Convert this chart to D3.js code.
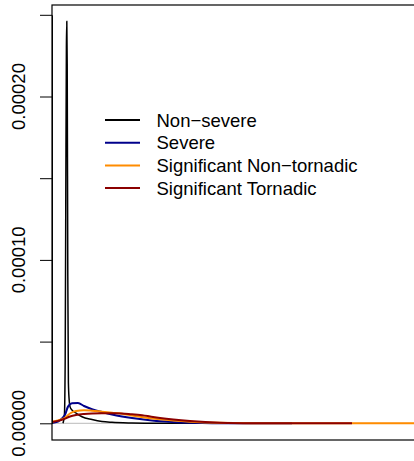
<!DOCTYPE html>
<html>
<head>
<meta charset="utf-8">
<script src="https://cdn.jsdelivr.net/npm/d3@7"></script>
<style>
  html, body { margin: 0; padding: 0; background: #fff; }
  svg { display: block; }
</style>
</head>
<body>
<svg id="chart" width="414" height="461"></svg>
<script>
// legend labels and colours
const seriesNames = ["Non\u2212severe", "Severe", "Significant Non\u2212tornadic", "Significant Tornadic"];
const seriesColors = ["#000000", "#00008B", "#FF8C00", "#8B0000"];

// density curves (x in data units, y = density)
const nonSevereX = [550, 620, 660, 690, 720, 740, 760, 790, 820, 860, 900, 1000, 1200, 1500, 2000, 2500, 3000, 4000, 5000, 6000, 8000];
const nonSevereY = [0, 0.000005, 0.00004, 0.00014, 0.00023, 0.000246, 0.00022, 0.00009, 0.000025, 0.000014, 0.0000102, 0.0000081, 0.0000063, 0.000004, 0.0000023, 0.0000011, 0.0000006, 0.0000002, 0.00000005, 0, 0];

const severeX = [0, 300, 500, 650, 800, 1000, 1300, 1600, 2000, 2500, 3000, 3500, 4000, 5000, 6000, 7000, 8000, 12000];
const severeY = [0.0000002, 0.000001, 0.000003, 0.0000052, 0.0000102, 0.0000122, 0.0000124, 0.0000106, 0.0000086, 0.0000069, 0.0000054, 0.0000042, 0.0000032, 0.0000017, 0.0000008, 0.0000003, 0.0000001, 0];

const sigNonTorX = [0, 300, 600, 900, 1200, 1600, 2000, 2500, 3000, 3500, 4000, 4400, 5400, 6900, 8400, 10000, 14000, 20000];
const sigNonTorY = [0.000001, 0.0000018, 0.000003, 0.000006, 0.0000075, 0.000008, 0.0000077, 0.0000071, 0.0000065, 0.0000059, 0.0000048, 0.000004, 0.0000024, 0.000001, 0.0000003, 0.0000001, 0, 0];

const sigTorX = [0, 300, 600, 900, 1200, 1600, 2000, 2500, 3000, 3500, 4000, 4400, 5400, 6900, 8400, 10000, 15000];
const sigTorY = [0.0000008, 0.0000015, 0.0000026, 0.0000042, 0.0000051, 0.0000057, 0.000006, 0.0000061, 0.0000061, 0.000006, 0.0000055, 0.0000051, 0.0000032, 0.0000014, 0.0000004, 0.0000001, 0];

const yTicks = [0, 0.00005, 0.0001, 0.00015, 0.0002, 0.00025];
const yTickLabels = ["0.00000", "", "0.00010", "", "0.00020", ""];

const svg = d3.select("#chart");
const font = "'Liberation Sans', Arial, Helvetica, sans-serif";

const plot = { left: 52, top: 5, bottom: 440, right: 500 };

const x = d3.scaleLinear().domain([0, 20000]).range([52, 452]);
const y = d3.scaleLinear().domain([0, 0.00025]).range([423.3, 14.8]);

svg.append("defs").append("clipPath").attr("id", "clip")
  .append("rect")
  .attr("x", plot.left).attr("y", plot.top)
  .attr("width", plot.right - plot.left).attr("height", plot.bottom - plot.top);

const area = svg.append("g").attr("clip-path", "url(#clip)");

// zero reference line
area.append("line")
  .attr("x1", plot.left).attr("x2", plot.right)
  .attr("y1", y(0)).attr("y2", y(0))
  .attr("stroke", "#c8c8c8").attr("stroke-width", 1.2);

const series = [
  { xs: nonSevereX, ys: nonSevereY },
  { xs: severeX, ys: severeY },
  { xs: sigNonTorX, ys: sigNonTorY },
  { xs: sigTorX, ys: sigTorY }
];

const line = d3.line()
  .x(d => x(d[0]))
  .y(d => y(d[1]))
  .curve(d3.curveMonotoneX);

series.forEach((s, i) => {
  area.append("path")
    .datum(d3.zip(s.xs, s.ys))
    .attr("d", line)
    .attr("fill", "none")
    .attr("stroke", seriesColors[i])
    .attr("stroke-width", i === 0 ? 1.5 : 2)
    .attr("stroke-linejoin", "round");
});

// y axis
const yAxis = svg.append("g")
  .attr("transform", `translate(${plot.left},0)`)
  .call(d3.axisLeft(y).tickValues(yTicks).tickSize(12).tickSizeOuter(0).tickFormat(""));
yAxis.selectAll("path.domain").attr("stroke", "#000");
yAxis.selectAll(".tick line").attr("stroke", "#000").attr("stroke-width", 1);

yAxis.selectAll("text.ylab")
  .data(yTicks)
  .enter()
  .append("text")
  .attr("class", "ylab")
  .attr("transform", d => `translate(-27,${y(d)}) rotate(-90)`)
  .attr("text-anchor", "middle")
  .attr("font-family", font)
  .attr("font-size", 18.5)
  .attr("fill", "#000")
  .text((d, i) => yTickLabels[i]);

// box
svg.append("rect")
  .attr("x", plot.left).attr("y", plot.top)
  .attr("width", plot.right - plot.left).attr("height", plot.bottom - plot.top)
  .attr("fill", "none").attr("stroke", "#000").attr("stroke-width", 1.2);

// legend
const legend = svg.append("g");
seriesNames.forEach((name, i) => {
  const ly = 120 + i * 22.7;
  legend.append("line")
    .attr("x1", 105).attr("x2", 140)
    .attr("y1", ly).attr("y2", ly)
    .attr("stroke", seriesColors[i]).attr("stroke-width", 2);
  legend.append("text")
    .attr("x", 156.5).attr("y", ly + 6.6)
    .attr("font-family", font)
    .attr("font-size", 18.5)
    .attr("fill", "#000")
    .text(name);
});
</script>
</body>
</html>
